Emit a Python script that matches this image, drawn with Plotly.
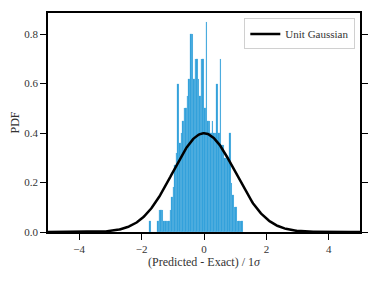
import numpy as np
import plotly.graph_objects as go

# Histogram of normalised residuals (density), bin width 0.05
bin_left = -1.75
bin_width = 0.05
pdf_values = [
    0.045, 0.0, 0.0, 0.0, 0.0,
    0.045, 0.09, 0.09, 0.09, 0.045,
    0.045, 0.045, 0.045, 0.09, 0.14,
    0.18, 0.27, 0.32, 0.60, 0.36,
    0.40, 0.45, 0.50, 0.50, 0.55,
    0.62, 0.80, 0.80, 0.62, 0.70,
    0.70, 0.62, 0.55, 0.70, 0.70,
    0.50, 0.85, 0.45, 0.45, 0.40,
    0.45, 0.40, 0.40, 0.60, 0.40,
    0.70, 0.35, 0.35, 0.30, 0.30,
    0.30, 0.40, 0.20, 0.15, 0.10,
    0.10, 0.045, 0.045, 0.045, 0.045,
]
bin_centers = [bin_left + bin_width * (i + 0.5) for i in range(len(pdf_values))]

x_ticks = [-4, -2, 0, 2, 4]
x_tick_labels = ["\u22124", "\u22122", "0", "2", "4"]
y_ticks = [0.0, 0.2, 0.4, 0.6, 0.8]
y_tick_labels = ["0.0", "0.2", "0.4", "0.6", "0.8"]

# Unit Gaussian reference curve
gx = np.linspace(-5, 5, 401)
gy = np.exp(-0.5 * gx ** 2) / np.sqrt(2 * np.pi)

FONT = "Liberation Serif, DejaVu Serif, serif"

fig = go.Figure()
fig.add_trace(go.Bar(
    x=bin_centers, y=pdf_values, width=bin_width,
    marker=dict(color="rgb(48,160,218)",
                line=dict(color="rgba(150,205,235,0.5)", width=0.2)),
    showlegend=False, hoverinfo="skip",
))
fig.add_trace(go.Scatter(
    x=gx, y=gy, mode="lines", name="Unit Gaussian",
    line=dict(color="black", width=2.5),
))

fig.update_layout(
    width=371, height=276,
    margin=dict(l=40, r=19, t=5, b=52),
    paper_bgcolor="white", plot_bgcolor="white",
    bargap=0,
    font=dict(family=FONT, size=11, color="#333"),
    xaxis=dict(
        range=[-5, 5], tickvals=x_ticks, ticktext=x_tick_labels,
        ticks="outside", ticklen=6, tickwidth=1.2, tickcolor="black",
        showline=True, linecolor="black", linewidth=1.6, mirror=True,
        showgrid=False, zeroline=False, automargin=False,
        title=dict(text="(Predicted - Exact) / 1<i>σ</i>", standoff=4,
                   font=dict(size=12, family=FONT, color="#333")),
        tickfont=dict(size=11, family=FONT, color="#333"),
    ),
    yaxis=dict(
        range=[0, 0.885], tickvals=y_ticks, ticktext=y_tick_labels,
        ticks="outside", ticklen=6, tickwidth=1.2, tickcolor="black",
        showline=True, linecolor="black", linewidth=1.6, mirror="ticks",
        showgrid=False, zeroline=False, automargin=False,
        title=dict(text="PDF", standoff=4,
                   font=dict(size=12, family=FONT, color="#333")),
        tickfont=dict(size=11, family=FONT, color="#333"),
    ),
    legend=dict(
        x=0.985, y=0.975, xanchor="right", yanchor="top",
        bgcolor="rgba(255,255,255,0.85)", bordercolor="#d0d0d0", borderwidth=1,
        font=dict(size=11, family=FONT, color="#333"),
        itemwidth=30,
    ),
)

fig.write_html("out.html")
